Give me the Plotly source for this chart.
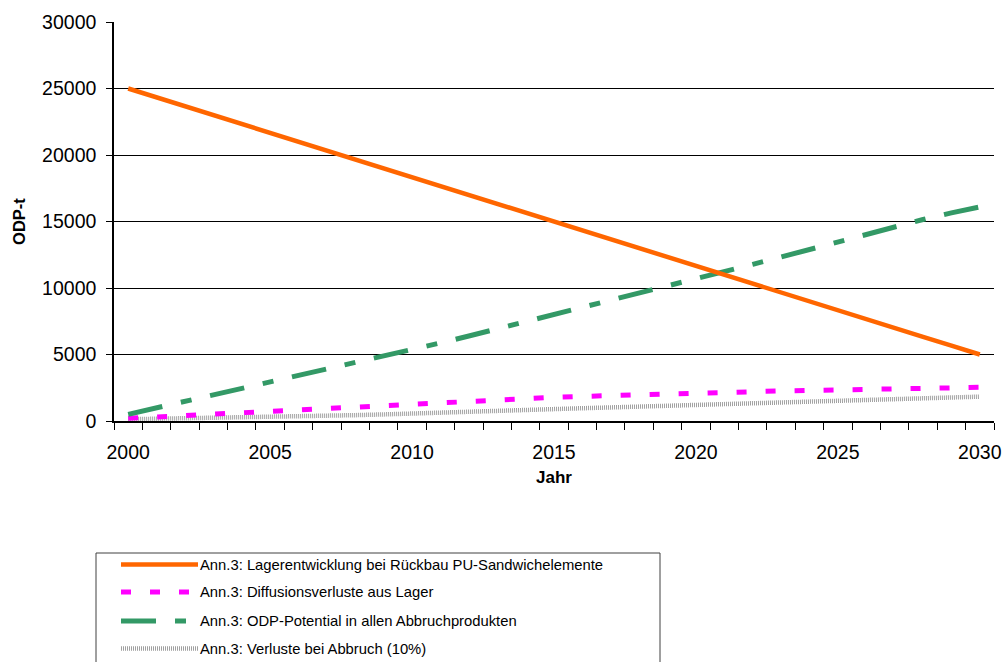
import plotly.graph_objects as go

years = list(range(2000, 2031))

lager = [25000, 24330, 23670, 23000, 22330, 21670, 21000, 20330, 19670, 19000,
         18330, 17670, 17000, 16330, 15670, 15000, 14330, 13670, 13000, 12330,
         11670, 11000, 10330, 9670, 9000, 8330, 7670, 7000, 6330, 5670, 5000]
diffusion = [200, 310, 420, 530, 640, 750, 860, 970, 1080, 1190,
             1300, 1400, 1500, 1590, 1690, 1780, 1850, 1920, 1990, 2060,
             2130, 2180, 2220, 2260, 2300, 2350, 2390, 2420, 2460, 2500, 2530]
odp_potential = [500, 980, 1460, 1940, 2420, 2900, 3380, 3870, 4360, 4850,
                 5350, 5870, 6390, 6920, 7450, 7980, 8510, 9050, 9590, 10130,
                 10680, 11230, 11780, 12330, 12900, 13500, 14050, 14600, 15150, 15650, 16100]
verluste = [130, 160, 190, 220, 255, 290, 340, 390, 440, 495,
            550, 620, 690, 760, 830, 900, 960, 1020, 1080, 1140,
            1200, 1260, 1320, 1380, 1440, 1500, 1565, 1630, 1700, 1765, 1830]

names = [
    "Ann.3: Lagerentwicklung bei Rückbau PU-Sandwichelemente",
    "Ann.3: Diffusionsverluste aus Lager",
    "Ann.3: ODP-Potential in allen Abbruchprodukten",
    "Ann.3: Verluste bei Abbruch (10%)",
]
y_ticks = [0, 5000, 10000, 15000, 20000, 25000, 30000]
y_tick_labels = ["0", "5000", "10000", "15000", "20000", "25000", "30000"]
x_ticks = [2000, 2005, 2010, 2015, 2020, 2025, 2030]
x_tick_labels = ["2000", "2005", "2010", "2015", "2020", "2025", "2030"]

styles = [
    dict(color="#FF6600", width=4.5, dash="solid"),
    dict(color="#FF00FF", width=5, dash="10px,19px"),
    dict(color="#339966", width=5, dash="35px,19px,11px,19px"),
    dict(color="#A0A0A0", width=4.5, dash="1px,1px"),
]
series = [lager, diffusion, odp_potential, verluste]

W, H = 1003, 662
L, R, T, B = 114, 9, 22, 241
PW, PH = W - L - R, H - T - B

fig = go.Figure()
order = [3, 1, 2, 0]
for i in order:
    fig.add_trace(go.Scatter(x=years, y=series[i], mode="lines", name=names[i],
                             line=styles[i], showlegend=False, hoverinfo="skip"))

def px(xp):
    return (xp - L) / PW

def py(yp):
    return (H - B - yp) / PH

shapes = []
annotations = []
shapes.append(dict(type="rect", xref="paper", yref="paper",
                   x0=px(96), x1=px(660), y0=py(553), y1=py(720),
                   line=dict(color="#404040", width=1), fillcolor="white", layer="above"))
legend_y = [564.5, 592, 621, 648.5]
for i in range(4):
    st = styles[i]
    shapes.append(dict(type="line", xref="paper", yref="paper",
                       x0=px(121), x1=px(198), y0=py(legend_y[i]), y1=py(legend_y[i]),
                       line=dict(color=st["color"], width=st["width"], dash=st["dash"]),
                       layer="above"))
    annotations.append(dict(xref="paper", yref="paper", x=px(198), y=py(legend_y[i]),
                            text=names[i], showarrow=False, xanchor="left", yanchor="middle",
                            font=dict(family="Arial, Liberation Sans", size=14.8, color="#000000")))

fig.update_layout(
    width=W, height=H,
    margin=dict(l=L, r=R, t=T, b=B, autoexpand=False),
    paper_bgcolor="white", plot_bgcolor="white",
    font=dict(family="Arial, Liberation Sans", color="#000000"),
    shapes=shapes, annotations=annotations,
    xaxis=dict(range=[1999.5, 2030.5], tickmode="array", tickvals=x_ticks,
               ticktext=x_tick_labels, ticks="", showgrid=False,
               showline=True, linecolor="#000000", linewidth=1.5,
               tickfont=dict(size=19.5), zeroline=False, ticklabelstandoff=13,
               minor=dict(ticks="outside", tick0=1999.5, dtick=1, ticklen=7,
                          tickcolor="#000000", tickwidth=1, showgrid=False),
               title=dict(text="<b>Jahr</b>", font=dict(size=17), standoff=9)),
    yaxis=dict(range=[0, 30000], tickmode="array", tickvals=y_ticks,
               ticktext=y_tick_labels,
               ticks="outside", ticklen=6, tickcolor="#000000", tickwidth=1,
               showgrid=True, gridcolor="#000000", gridwidth=1,
               showline=True, linecolor="#000000", linewidth=1.5,
               tickfont=dict(size=19.5), zeroline=False, ticklabelstandoff=6,
               title=dict(text="<b>ODP-t</b>", font=dict(size=16.5), standoff=12)),
)

fig.write_html("out.html")
